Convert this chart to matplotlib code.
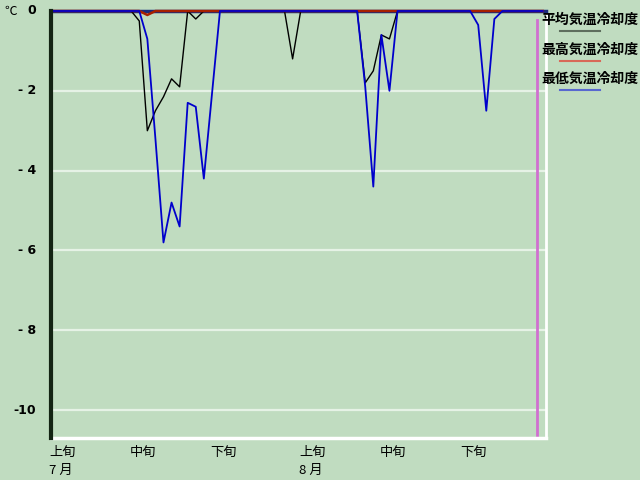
import matplotlib

matplotlib.use("Agg")
import matplotlib.pyplot as plt
import matplotlib.transforms as mtransforms
import numpy as np

plt.rcParams["font.family"] = ["Noto Sans CJK JP", "DejaVu Sans"]

# ---------- data: daily cooling degree, 7/1 .. 8/31 ----------
mean_cool = [
    0, 0, 0, 0, 0, 0, 0, 0, 0, 0,
    0, -0.25, -3.0, -2.5, -2.15, -1.7, -1.9, 0, -0.2, 0,
    0, 0, 0, 0, 0, 0, 0, 0, 0, 0, -1.2,
    0, 0, 0, 0, 0, 0, 0, 0, -1.8, -1.5,
    -0.6, -0.7, 0, 0, 0, 0, 0, 0, 0, 0,
    0, 0, 0, 0, 0, 0, 0, 0, 0, 0, 0,
]
max_cool = [
    0, 0, 0, 0, 0, 0, 0, 0, 0, 0,
    0, 0, -0.1, 0, 0, 0, 0, 0, 0, 0,
    0, 0, 0, 0, 0, 0, 0, 0, 0, 0, 0,
    0, 0, 0, 0, 0, 0, 0, 0, 0, 0,
    0, 0, 0, 0, 0, 0, 0, 0, 0, 0,
    0, 0, 0, 0, 0, 0, 0, 0, 0, 0, 0,
]
min_cool = [
    0, 0, 0, 0, 0, 0, 0, 0, 0, 0,
    0, 0, -0.7, -3.2, -5.8, -4.8, -5.4, -2.3, -2.4, -4.2,
    -2.1, 0, 0, 0, 0, 0, 0, 0, 0, 0, 0,
    0, 0, 0, 0, 0, 0, 0, 0, -1.9, -4.4,
    -0.6, -2.0, 0, 0, 0, 0, 0, 0, 0, 0,
    0, 0, -0.35, -2.5, -0.2, 0, 0, 0, 0, 0, 0,
]
days = np.arange(len(mean_cool))

tick_pos = [0, 10, 20, 31, 41, 51]
tick_names = ["上旬", "中旬", "下旬", "上旬", "中旬", "下旬"]
month_pos = [0, 31]
month_names = ["7 月", "8 月"]
y_ticks = [0, -2, -4, -6, -8, -10]
y_names = ["0", "- 2", "- 4", "- 6", "- 8", "-10"]
series_names = ["平均気温冷却度", "最高気温冷却度", "最低気温冷却度"]
today = 60.3

bg = "#C0DCC0"
fig = plt.figure(figsize=(6.4, 4.8), dpi=100, facecolor=bg)
ax = fig.add_axes([50.5 / 640, 1 - 438 / 480, (546 - 50.5) / 640, (438 - 11) / 480])
ax.set_facecolor(bg)
ax.set_xlim(0, 61.4)
ax.set_ylim(-10.7, 0)

for v in y_ticks[1:]:
    ax.axhline(v, color="#E6F2E6", lw=1.6, zorder=1)

ax.plot(days, mean_cool, color="black", lw=1.0, zorder=4, clip_on=False)
ax.plot(days, max_cool, color="#A82000", lw=1.8, zorder=5, clip_on=False)
ax.plot(days, min_cool, color="#0000CC", lw=1.3, zorder=6, clip_on=False)

ax.axvline(today, ymin=0, ymax=1 - 9 / 427, color="#D070D0", lw=2, zorder=2)

for s in ["left", "top", "right", "bottom"]:
    ax.spines[s].set_zorder(3)
ax.spines["left"].set_zorder(7)
ax.spines["left"].set_color("#142414")
ax.spines["left"].set_linewidth(3)
ax.spines["top"].set_color("#1A2A7A")
ax.spines["top"].set_linewidth(2.5)
ax.spines["right"].set_color("white")
ax.spines["right"].set_linewidth(2)
ax.spines["bottom"].set_color("white")
ax.spines["bottom"].set_linewidth(2.5)

ax.set_xticks([])
ax.set_yticks([])

# y tick labels
ytr = mtransforms.blended_transform_factory(fig.transFigure, ax.transData)
for v, t in zip(y_ticks, y_names):
    ax.text(36 / 640, v, t, transform=ytr, ha="right", va="center",
            fontsize=9, fontweight="bold", family="DejaVu Sans")
fig.text(4 / 640, 1 - 11 / 480, "℃", ha="left", va="center", fontsize=9)

# x tick labels
xtr = mtransforms.blended_transform_factory(ax.transData, fig.transFigure)
for p, t in zip(tick_pos, tick_names):
    ax.text(p - 0.2, 1 - 452 / 480, t, transform=xtr, ha="left", va="center", fontsize=9.5)
for p, t in zip(month_pos, month_names):
    ax.text(p - 0.2, 1 - 470 / 480, t, transform=xtr, ha="left", va="center", fontsize=9.5)

# legend
leg_colors = ["#5E6E5E", "#D86858", "#5868D0"]
for i, (name, c) in enumerate(zip(series_names, leg_colors)):
    ty = 20 + i * 29.5
    fig.text(590 / 640, 1 - ty / 480, name, ha="center", va="center",
             fontsize=10, fontweight="bold")
    fig.add_artist(plt.Line2D([560 / 640, 600 / 640],
                              [1 - (ty + 11) / 480] * 2, color=c, lw=1.5))

fig.savefig("out.png", dpi=100, facecolor=bg)
